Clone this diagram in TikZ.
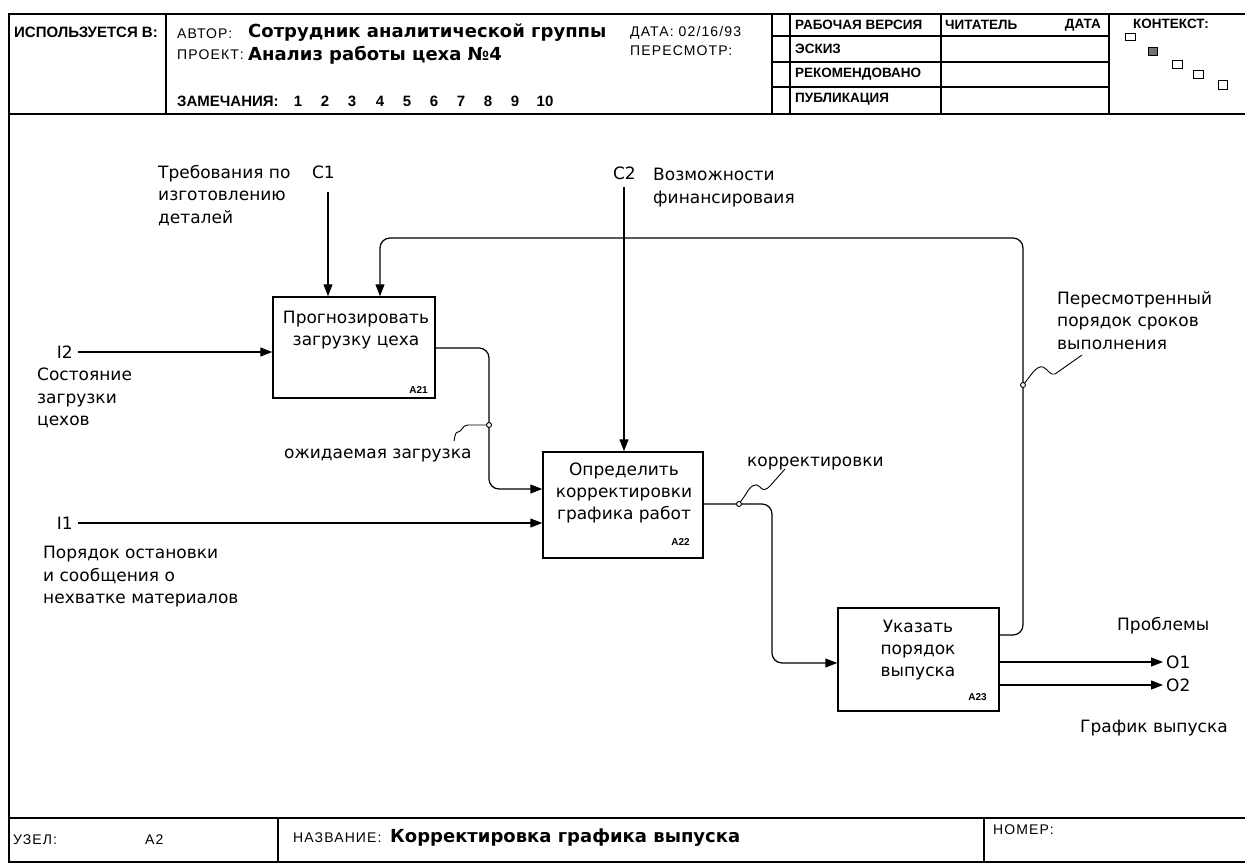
\documentclass[tikz,border=0pt]{standalone}
\usepackage{fontspec}
\setmainfont{DejaVu Sans}
\newfontfamily\hdrf{Liberation Sans}
\newfontfamily\hdrw[LetterSpace=8]{Liberation Sans}
\usetikzlibrary{arrows.meta}
\begin{document}
\begin{tikzpicture}[x=1pt,y=-1pt,
  frame/.style={line width=1.2pt},
  flow/.style={line width=1.2pt, rounded corners=10pt},
  arr/.style={-{Triangle[length=12pt,width=9pt]}},
  box/.style={draw, line width=1.5pt, inner sep=0pt},
  lab/.style={inner sep=0pt, font=\fontsize{17}{22.5}\selectfont, align=left},
  boxt/.style={inner sep=0pt, font=\fontsize{17}{22}\selectfont, align=center},
  bnum/.style={inner sep=0pt, font=\hdrf\bfseries\fontsize{10}{11}\selectfont},
  hcap/.style={inner sep=0pt, font=\hdrf\bfseries\fontsize{15}{17}\selectfont},
  hsml/.style={inner sep=0pt, font=\hdrf\bfseries\fontsize{13.5}{15}\selectfont},
  hreg/.style={inner sep=0pt, font=\hdrw\fontsize{14}{16}\selectfont},
  htitle/.style={inner sep=0pt, font=\bfseries\fontsize{18}{20}\selectfont},
  dot/.style={circle, draw, fill=white, line width=0.9pt, inner sep=0pt, minimum size=5pt},
  sq/.style={draw, line width=0.8pt},
  squig/.style={line width=0.9pt}
]
\useasboundingbox (0,0) rectangle (1245,864);
% ---------------- frame -----------------
\draw[frame] (1245,14) -- (9,14) -- (9,862) -- (1245,862);
\draw[frame] (9,114) -- (1245,114);
\draw[frame] (166,14) -- (166,114);
\draw[frame] (772,14) -- (772,114);
\draw[frame] (790,14) -- (790,114);
\draw[frame] (941,14) -- (941,114);
\draw[frame] (1109,14) -- (1109,114);
\draw[frame] (772,36) -- (1109,36);
\draw[frame] (772,62) -- (1109,62);
\draw[frame] (772,87) -- (1109,87);
\draw[frame] (9,818) -- (1245,818);
\draw[frame] (278,818) -- (278,862);
\draw[frame] (984,818) -- (984,862);
% ---------------- header texts -----------------
\node[hcap, anchor=west] (usedin) at (14,32) {ИСПОЛЬЗУЕТСЯ В:};
\node[hreg, anchor=west] (author) at (177,34) {АВТОР:};
\node[htitle, anchor=west] (authorv) at (248,33) {Сотрудник аналитической группы};
\node[hreg, anchor=west] (project) at (177,55) {ПРОЕКТ:};
\node[htitle, anchor=west] (projectv) at (248,55) {Анализ работы цеха №4};
\node[hcap, anchor=west] (notes) at (177,101) {ЗАМЕЧАНИЯ:};
\foreach \n/\x in {1/298,2/325,3/352,4/380,5/407,6/434,7/461,8/488,9/515,10/545}
  \node[hcap] (note\n) at (\x,101) {\n};
\node[hreg, anchor=west] (date) at (630,33) {ДАТА: 02/16/93};
\node[hreg, anchor=west] (rev) at (630,51) {ПЕРЕСМОТР:};
\node[hsml, anchor=west] (st1) at (795,25) {РАБОЧАЯ ВЕРСИЯ};
\node[hsml, anchor=west] (st2) at (795,49) {ЭСКИЗ};
\node[hsml, anchor=west] (st3) at (795,74) {РЕКОМЕНДОВАНО};
\node[hsml, anchor=west] (st4) at (795,99) {ПУБЛИКАЦИЯ};
\node[hsml, anchor=west] (reader) at (945,25) {ЧИТАТЕЛЬ};
\node[hsml, anchor=east] (rdate) at (1101,25) {ДАТА};
\node[hsml, anchor=west] (context) at (1133,24) {КОНТЕКСТ:};
\draw[sq] (1125,33) rectangle (1135,40);
\draw[sq, fill=black!55] (1148,47) rectangle (1157,55);
\draw[sq] (1172,60) rectangle (1182,68);
\draw[sq] (1193,70) rectangle (1203,78);
\draw[sq] (1218,80) rectangle (1227,89);
% ---------------- footer -----------------
\node[hreg, anchor=west] (node) at (13,840) {УЗЕЛ:};
\node[hreg, anchor=west] (nodev) at (145,840) {A2};
\node[hreg, anchor=west] (title) at (293,838) {НАЗВАНИЕ:};
\node[htitle, anchor=west] (titlev) at (390,838) {Корректировка графика выпуска};
\node[hreg, anchor=west] (number) at (993,830) {НОМЕР:};
% ---------------- boxes -----------------
\node[box, minimum width=162pt, minimum height=101pt] (A21) at (354,347.5) {};
\node[box, minimum width=160pt, minimum height=106pt] (A22) at (623,505) {};
\node[box, minimum width=161pt, minimum height=103pt] (A23) at (918.5,659.5) {};
\node[boxt, anchor=north] (A21t) at (356,311) {Прогнозировать\\загрузку цеха};
\node[boxt, anchor=north] (A22t) at (624,463) {Определить\\корректировки\\графика работ};
\node[boxt, anchor=north] (A23t) at (918,620) {Указать\\порядок\\выпуска};
\node[bnum, anchor=east] (A21n) at (428,390) {A21};
\node[bnum, anchor=east] (A22n) at (690,542) {A22};
\node[bnum, anchor=east] (A23n) at (987,697) {A23};
% ---------------- coordinates -----------------
\coordinate (I2s) at (78,352);
\coordinate (I1s) at (78,523);
\coordinate (C1s) at (328,192);
\coordinate (C2s) at (624,187);
\coordinate (y348) at (0,348);
\coordinate (y489) at (0,489);
\coordinate (y504) at (0,504);
\coordinate (y663) at (0,663);
\coordinate (y635) at (0,635);
\coordinate (y662) at (0,662);
\coordinate (y685) at (0,685);
\coordinate (O1e) at (1163,662);
\coordinate (O2e) at (1163,685);
\coordinate (fbA) at (1023,238);
\coordinate (fbB) at (380,238);
% ---------------- connectors -----------------
\draw[flow, arr] (I2s) -- (I2s -| A21.west);
\draw[flow, arr] (I1s) -- (I1s -| A22.west);
\draw[flow, arr] (C1s) -- (C1s |- A21.north);
\draw[flow, arr] (C2s) -- (C2s |- A22.north);
\draw[flow, arr] (A21.east |- y348) -- (489,348) -- (489,489) -- (A22.west |- y489);
\draw[flow, arr] (A22.east |- y504) -- (772,504) -- (772,663) -- (A23.west |- y663);
\draw[flow, arr] (A23.east |- y635) -- (1023,635) -- (fbA) -- (fbB) -- (fbB |- A21.north);
\draw[flow, arr] (A23.east |- y662) -- (O1e);
\draw[flow, arr] (A23.east |- y685) -- (O2e);
% squiggles
\draw[squig] (489,425) -- (468,425) .. controls (462,425) and (462,432) .. (458,432) .. controls (455,432) and (455,437) .. (454,441);
\draw[squig] (739,504) -- (746,494) .. controls (750,486) and (756,482) .. (760,487) .. controls (763,491) and (766,490) .. (770,486) -- (785,469);
\draw[squig] (1023,385) .. controls (1030,377) and (1036,365) .. (1043,367) .. controls (1048,369) and (1050,376) .. (1055,374) -- (1082,355);
\node[dot] (d1) at (489,425) {};
\node[dot] (d2) at (739,504) {};
\node[dot] (d3) at (1023,385) {};
% ---------------- labels -----------------
\node[lab, anchor=east] (C1l) at (335,172) {C1};
\node[lab, anchor=north west] (C1t) at (158,165) {Требования по\\изготовлению\\деталей};
\node[lab, anchor=east] (C2l) at (636,173) {C2};
\node[lab, anchor=north west] (C2t) at (653,168) {Возможности\\финансироваия};
\node[lab, anchor=east] (I2l) at (73,352) {I2};
\node[lab, anchor=north west] (I2t) at (37,368) {Состояние\\загрузки\\цехов};
\node[lab, anchor=base west] (expl) at (284,458) {ожидаемая загрузка};
\node[lab, anchor=east] (I1l) at (73,523) {I1};
\node[lab, anchor=north west] (I1t) at (43,546) {Порядок остановки\\и сообщения о\\нехватке материалов};
\node[lab, anchor=base west] (corl) at (747,466) {корректировки};
\node[lab, anchor=north west] (revl) at (1057,291) {Пересмотренный\\порядок сроков\\выполнения};
\node[lab, anchor=base west] (probl) at (1117,630) {Проблемы};
\node[lab, anchor=west] (O1l) at (1166,662) {O1};
\node[lab, anchor=west] (O2l) at (1166,685) {O2};
\node[lab, anchor=base west] (schl) at (1080,732) {График выпуска};
\end{tikzpicture}
\end{document}
